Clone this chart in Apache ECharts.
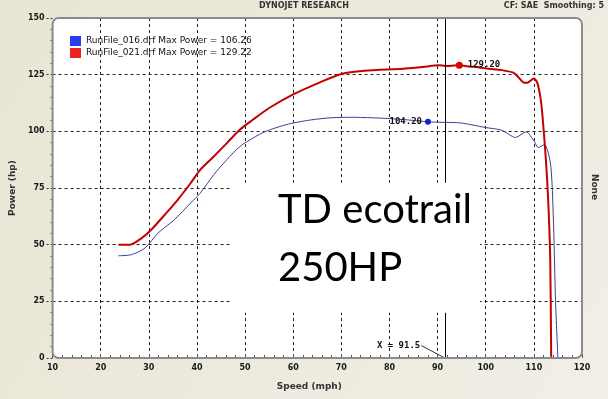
<!DOCTYPE html>
<html>
<head>
<meta charset="utf-8">
<style>
  html, body { margin: 0; height: 100%; width: 100%; }
  #chart-panel { width: 608px; height: 399px; }
</style>
</head>
<body>
<div id="chart-panel"></div>
<script src="https://cdn.jsdelivr.net/npm/echarts@6/dist/echarts.min.js"></script>
<script>
  // RunFile_021 (red)
  var redSpeed = [23.7, 26.1, 28.5, 30.5, 33.3, 36.0, 38.7, 40.7, 43.5, 46.2, 48.9, 51.6, 55.0, 59.8, 65.2, 70.0, 74.8, 82.9, 86.9, 90.4, 92.4, 94.5, 96.0, 98.6, 100.6, 103.3, 105.9, 107.8, 108.6, 110.0, 110.7, 111.4, 111.8, 112.5, 113.0, 113.4, 113.6];
  var redPower = [50.0, 50.0, 52.9, 56.6, 63.2, 69.8, 77.2, 83.1, 88.9, 94.8, 100.7, 105.1, 110.3, 116.1, 121.3, 125.3, 126.7, 127.6, 128.4, 129.1, 128.8, 129.2, 128.7, 128.2, 127.6, 127.0, 125.7, 121.6, 121.4, 123.3, 121.5, 114.5, 106.6, 87.5, 68.5, 43.4, 0];
  // RunFile_016 (blue)
  var blueSpeed = [23.7, 26.4, 29.2, 31.9, 35.3, 38.7, 40.7, 43.5, 46.2, 48.9, 51.6, 54.3, 59.0, 63.9, 68.0, 72.0, 77.4, 80.2, 84.0, 88.0, 90.7, 94.8, 99.9, 103.3, 106.2, 108.4, 110.1, 110.9, 112.2, 113.5, 114.1, 114.5, 115.0];
  var bluePower = [45.1, 45.6, 48.5, 55.1, 61.0, 68.4, 72.8, 80.9, 87.5, 93.3, 97.0, 100.0, 103.2, 105.1, 106.0, 106.2, 105.9, 105.6, 105.0, 104.2, 104.0, 103.7, 101.7, 100.5, 97.3, 99.8, 95.5, 92.8, 94.2, 85.0, 58.0, 25.0, 0];

  var legendNames = ['RunFile_016.drf Max Power = 106.26', 'RunFile_021.drf Max Power = 129.22'];
  var redMarker = [94.5, 129.2];
  var blueMarker = [88.0, 104.2];
  var cursorSpeed = 91.5;
  var cursorLabelAt = [86.6, 5.5];

  function zip(a, b) {
    return a.map(function (v, i) { return [v, b[i]]; });
  }

  var tickFont = { fontFamily: 'DejaVu Sans', fontWeight: 'bold', fontSize: 8, color: '#1a1a1a' };
  var monoFont = { fontFamily: 'DejaVu Sans Mono', fontWeight: 'bold', fontSize: 9, color: '#111' };

  var dom = document.getElementById('chart-panel');
  var myChart = echarts.init(dom);

  var option = {
    animation: false,
    backgroundColor: {
      type: 'linear', x: 0, y: 0, x2: 1, y2: 1,
      colorStops: [{ offset: 0, color: '#e8e5d4' }, { offset: 1, color: '#f1efe6' }]
    },
    grid: {
      left: 43, right: 26, top: 18, bottom: 41,
      show: true, backgroundColor: '#ffffff', borderWidth: 0
    },
    legend: {
      orient: 'vertical',
      left: 70, top: 36,
      padding: 0,
      itemGap: 2,
      itemWidth: 11, itemHeight: 10,
      icon: 'rect',
      textStyle: { fontFamily: 'DejaVu Sans', fontSize: 9, color: '#111' },
      data: [
        { name: legendNames[0], itemStyle: { color: '#2a3cf2' } },
        { name: legendNames[1], itemStyle: { color: '#ee2222' } }
      ]
    },
    xAxis: {
      type: 'value',
      min: 10, max: 120, interval: 10,
      name: 'Speed (mph)',
      nameLocation: 'middle',
      nameGap: 24,
      nameTextStyle: { fontFamily: 'DejaVu Sans', fontWeight: 'bold', fontSize: 9, color: '#333', padding: [0, 16, 0, 0] },
      axisLine: { show: false },
      axisTick: { show: true, inside: true, length: 4, lineStyle: { color: '#555' } },
      minorTick: { show: true, splitNumber: 5, length: 3, lineStyle: { color: '#555' } },
      axisLabel: Object.assign({ margin: 6 }, tickFont),
      splitLine: { show: true, showMinLine: false, showMaxLine: false, lineStyle: { color: '#222', type: [3, 3], width: 1 } }
    },
    yAxis: {
      type: 'value',
      min: 0, max: 150, interval: 25,
      name: 'Power (hp)',
      nameLocation: 'middle',
      nameGap: 31,
      nameTextStyle: { fontFamily: 'DejaVu Sans', fontWeight: 'bold', fontSize: 9, color: '#333' },
      axisLine: { show: false },
      axisTick: { show: true, length: 6, lineStyle: { color: '#333', type: [2, 2] } },
      minorTick: { show: true, splitNumber: 5, length: 2, lineStyle: { color: '#555' } },
      axisLabel: Object.assign({ margin: 8 }, tickFont),
      splitLine: { show: true, showMinLine: false, showMaxLine: false, lineStyle: { color: '#222', type: [3, 3], width: 1 } }
    },
    series: [
      {
        name: legendNames[0],
        type: 'line',
        data: zip(blueSpeed, bluePower),
        smooth: 0.25,
        showSymbol: false,
        color: '#2a3cf2',
        lineStyle: { color: '#3e3e90', width: 1 },
        markPoint: {
          symbol: 'circle',
          symbolSize: 6,
          itemStyle: { color: '#1020e0' },
          label: Object.assign({ position: 'left', distance: 3 }, monoFont),
          data: [{ coord: blueMarker, value: blueMarker[1].toFixed(2) }]
        },
        z: 3
      },
      {
        name: legendNames[1],
        type: 'line',
        data: zip(redSpeed, redPower),
        smooth: 0.25,
        showSymbol: false,
        color: '#ee2222',
        lineStyle: { color: '#c40000', width: 2 },
        markPoint: {
          symbol: 'circle',
          symbolSize: 7,
          itemStyle: { color: '#e00000' },
          label: Object.assign({ position: 'right', distance: 5 }, monoFont),
          data: [{ coord: redMarker, value: redMarker[1].toFixed(2) }]
        },
        z: 4
      },
      {
        name: 'cursor',
        type: 'line',
        data: [],
        markLine: {
          silent: true,
          symbol: 'none',
          label: { show: false },
          lineStyle: { color: '#000', type: 'solid', width: 1 },
          data: [
            { xAxis: cursorSpeed },
            [
              { coord: cursorLabelAt, lineStyle: { color: '#333', width: 1 } },
              { coord: [cursorSpeed, 0] }
            ]
          ]
        },
        markPoint: {
          symbol: 'circle',
          symbolSize: 0,
          label: Object.assign({ position: 'left', distance: 1, formatter: 'X = ' + cursorSpeed }, monoFont),
          data: [{ coord: cursorLabelAt }]
        },
        z: 2
      }
    ]
  };

  myChart.setOption(option);

  // annotations placed through the chart's own scales
  var tl = myChart.convertToPixel({ gridIndex: 0 }, [10, 150]);
  var br = myChart.convertToPixel({ gridIndex: 0 }, [120, 0]);
  var boxA = myChart.convertToPixel({ gridIndex: 0 }, [47.0, 77.3]);
  var boxB = myChart.convertToPixel({ gridIndex: 0 }, [98.8, 20.0]);

  myChart.setOption({
    graphic: [
      {
        type: 'rect', z: 10, silent: true,
        shape: { x: boxA[0], y: boxA[1], width: boxB[0] - boxA[0], height: boxB[1] - boxA[1] },
        style: { fill: '#ffffff' }
      },
      {
        type: 'rect', z: 12, silent: true,
        shape: { x: tl[0], y: tl[1], width: br[0] - tl[0], height: br[1] - tl[1], r: 6 },
        style: { fill: 'none', stroke: '#8a8a8a', lineWidth: 2 }
      },
      {
        type: 'text', z: 12, x: 278, y: 210,
        style: { text: 'TD ecotrail', font: '40px Lato', fill: '#000', verticalAlign: 'middle' }
      },
      {
        type: 'text', z: 12, x: 278, y: 268,
        style: { text: '250HP', font: '40px Lato', fill: '#000', verticalAlign: 'middle' }
      },
      {
        type: 'text', z: 12, x: 304, y: 6,
        style: { text: 'DYNOJET RESEARCH', font: 'bold 8px "DejaVu Sans"', fill: '#333', align: 'center', verticalAlign: 'middle' }
      },
      {
        type: 'text', z: 12, x: 604, y: 6,
        style: { text: 'CF: SAE  Smoothing: 5', font: 'bold 8px "DejaVu Sans"', fill: '#333', align: 'right', verticalAlign: 'middle' }
      },
      {
        type: 'text', z: 12, x: 594, y: 187, rotation: -Math.PI / 2,
        style: { text: 'None', font: 'bold 9px "DejaVu Sans"', fill: '#333', align: 'center', verticalAlign: 'middle' }
      }
    ]
  });
</script>
</body>
</html>
